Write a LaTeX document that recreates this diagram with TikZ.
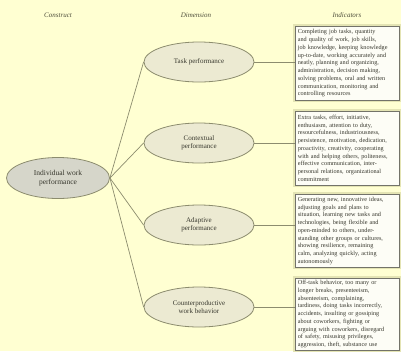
\documentclass[tikz,border=0pt]{standalone}
\usepackage{fontspec}
\setmainfont{Liberation Serif}
\usetikzlibrary{shapes.geometric}
\definecolor{bgc}{RGB}{255,255,210}
\definecolor{linec}{RGB}{140,140,110}
\definecolor{mainfill}{RGB}{214,214,202}
\definecolor{dimfill}{RGB}{236,234,210}
\definecolor{boxfill}{RGB}{253,253,246}
\definecolor{boxline}{RGB}{115,115,105}
\definecolor{bandc}{RGB}{228,228,180}
\definecolor{txtc}{RGB}{55,55,45}
\definecolor{headc}{RGB}{80,80,60}
\tikzset{
  head/.style={font=\itshape\fontsize{7}{8}\selectfont, text=headc},
  mainell/.style={ellipse, draw=linec, line width=0.8pt, fill=mainfill, minimum width=103pt, minimum height=41pt, inner sep=0pt, align=center, text=txtc, font=\fontsize{7.5}{8.5}\selectfont},
  dimell/.style={ellipse, draw=linec, line width=0.8pt, fill=dimfill, minimum width=110pt, minimum height=40pt, inner sep=0pt, align=center, text=txtc, font=\fontsize{7}{8.5}\selectfont},
  indbox/.style={preaction={draw=bandc, line width=4pt}, draw=boxline, line width=0.6pt, fill=boxfill, minimum width=104pt, text width=99pt, inner xsep=2.5pt, inner ysep=2pt, align=left, anchor=north west, text=txtc, font=\fontsize{6.2}{7.75}\selectfont},
  conn/.style={draw=linec, line width=0.7pt}
}
\begin{document}
\begin{tikzpicture}[x=1pt,y=-1pt]
\fill[bgc] (0,0) rectangle (401,351);
\useasboundingbox (0,0) rectangle (401,351);
\node[head] (hc) at (58,15) {Construct};
\node[head] (hd) at (196,15) {Dimension};
\node[head] (hi) at (347,15) {Indicators};
\node[mainell] (iwp) at (58,178) {Individual work\\performance};
\node[dimell] (tp) at (199,62) {Task performance};
\node[dimell] (cp) at (199,143) {Contextual\\performance};
\node[dimell] (ap) at (199,225) {Adaptive\\performance};
\node[dimell] (cwb) at (199,307) {Counterproductive\\work behavior};
\node[indbox, minimum height=74pt] (b1) at (295,26) {Completing job tasks, quantity\\and quality of work, job skills,\\job knowledge, keeping knowledge\\up-to-date, working accurately and\\neatly, planning and organizing,\\administration, decision making,\\solving problems, oral and written\\communication, monitoring and\\controlling resources};
\node[indbox, minimum height=74pt] (b2) at (295,111) {Extra tasks, effort, initiative,\\enthusiasm, attention to duty,\\resourcefulness, industriousness,\\persistence, motivation, dedication,\\proactivity, creativity, cooperating\\with and helping others, politeness,\\effective communication, inter-\\personal relations, organizational\\commitment};
\node[indbox, minimum height=73pt] (b3) at (295,194) {Generating new, innovative ideas,\\adjusting goals and plans to\\situation, learning new tasks and\\technologies, being flexible and\\open-minded to others, under-\\standing other groups or cultures,\\showing resilience, remaining\\calm, analyzing quickly, acting\\autonomously};
\node[indbox, minimum height=70pt] (b4) at (295,278) {Off-task behavior, too many or\\longer breaks, presenteeism,\\absenteeism, complaining,\\tardiness, doing tasks incorrectly,\\accidents, insulting or gossiping\\about coworkers, fighting or\\arguing with coworkers, disregard\\of safety, misusing privileges,\\aggression, theft, substance use};
\draw[conn] (iwp.east) -- (tp.west);
\draw[conn] (iwp.east) -- (cp.west);
\draw[conn] (iwp.east) -- (ap.west);
\draw[conn] (iwp.east) -- (cwb.west);
\draw[conn] (tp.east) -- (tp.east -| b1.west);
\draw[conn] (cp.east) -- (cp.east -| b2.west);
\draw[conn] (ap.east) -- (ap.east -| b3.west);
\draw[conn] (cwb.east) -- (cwb.east -| b4.west);
\end{tikzpicture}
\end{document}
